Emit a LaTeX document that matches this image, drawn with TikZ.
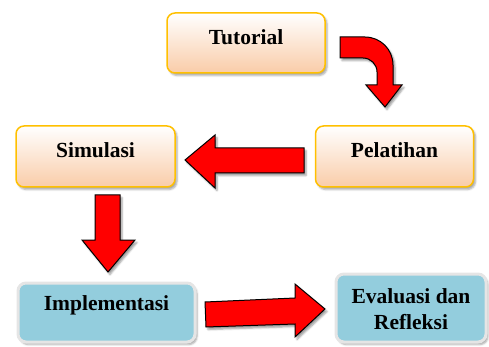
\documentclass[tikz,border=0pt]{standalone}
\usepackage{fontspec}
\setmainfont{Liberation Serif}
\usetikzlibrary{shadows.blur}
\definecolor{peach}{HTML}{F9CCA8}
\definecolor{gold}{HTML}{FFC000}
\definecolor{skyfill}{HTML}{93CDDD}
\definecolor{arrowred}{HTML}{FF0000}
\begin{document}
\begin{tikzpicture}[x=1pt,y=-1pt,
  lbl/.style={font=\fontsize{21.5}{26}\selectfont\bfseries, align=center, text=black, inner sep=0pt},
  orangebox/.style={rounded corners=8pt, draw=gold, line width=1.5pt, top color=white, bottom color=peach,
    blur shadow={shadow xshift=2pt, shadow yshift=-2.5pt, shadow opacity=35}},
  skybox/.style={rounded corners=8pt, draw=white!90!black, line width=3pt, fill=skyfill,
    blur shadow={shadow xshift=2pt, shadow yshift=-2.5pt, shadow opacity=35}},
  bigarrow/.style={fill=arrowred, draw=black, line width=1pt, line join=miter,
    blur shadow={shadow xshift=2pt, shadow yshift=-2.5pt, shadow opacity=40}}]
\useasboundingbox (0,0) rectangle (489,347);

% boxes
\node[orangebox, minimum width=158pt, minimum height=60pt] (tut) at (246,43) {};
\node[orangebox, minimum width=159pt, minimum height=61pt] (sim) at (95.5,156.5) {};
\node[orangebox, minimum width=158pt, minimum height=61pt] (pel) at (394.5,156.5) {};
\node[skybox, minimum width=177pt, minimum height=59pt] (imp) at (106.5,312.5) {};
\node[skybox, minimum width=150pt, minimum height=68pt] (eva) at (411,308) {};

% labels
\node[lbl] (tutl) at ([yshift=6pt]tut.center) {Tutorial};
\node[lbl] (siml) at ([yshift=6pt]sim.center) {Simulasi};
\node[lbl] (pell) at ([yshift=6pt]pel.center) {Pelatihan};
\node[lbl] (impl) at ([yshift=7pt]imp.center) {Implementasi};
\node[lbl] (eval) at ([yshift=-1pt]eva.center) {Evaluasi dan\\Refleksi};

% arrows
\draw[bigarrow] (340,37) -- (365,37) .. controls (380.5,37) and (393,49.5) .. (393,65)
  -- (393,85) -- (402,85) -- (385,107) -- (366,85) -- (377,85) -- (377,72)
  .. controls (377,64.3) and (370.7,58) .. (363,58) -- (340,58) -- cycle;
\draw[bigarrow] (304,148) -- (215,148) -- (215,135) -- (185,160) -- (215,188) -- (215,173) -- (304,173) -- cycle;
\draw[bigarrow] (95,195) -- (120,195) -- (120,240) -- (135,240) -- (108,272) -- (82,240) -- (95,240) -- cycle;
\draw[bigarrow] (205,302) -- (295,298) -- (295,284) -- (325,309) -- (295,337) -- (295,324) -- (206,327) -- cycle;
\end{tikzpicture}
\end{document}
